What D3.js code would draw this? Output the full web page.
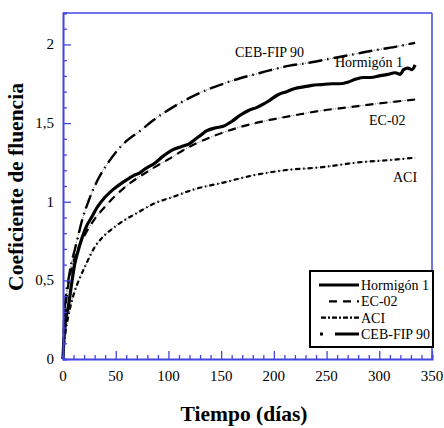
<!DOCTYPE html>
<html>
<head>
<meta charset="utf-8">
<script src="https://cdn.jsdelivr.net/npm/d3@7"></script>
<style>
  body { margin: 0; background: #fff; }
  svg { display: block; }
</style>
</head>
<body>
<svg id="chart"></svg>
<script>
const width = 444;
const height = 428;

// Hormigón 1 (measured)
const hormigonT = [0, 1, 2, 3, 5, 8, 11, 14, 18, 22, 27, 33, 40, 48, 56, 63, 68, 72, 78, 87, 95, 104, 112, 120, 126, 132, 136, 145, 152, 160, 168, 176, 184, 190, 196, 204, 212, 220, 228, 236, 245, 255, 262, 270, 278, 285, 292, 300, 308, 315, 320, 323, 327, 331, 334];
const hormigonY = [0, 0.14, 0.22, 0.27, 0.33, 0.47, 0.6, 0.68, 0.77, 0.84, 0.9, 0.97, 1.03, 1.08, 1.12, 1.15, 1.17, 1.18, 1.21, 1.245, 1.29, 1.33, 1.35, 1.37, 1.4, 1.43, 1.45, 1.47, 1.48, 1.51, 1.55, 1.58, 1.6, 1.62, 1.645, 1.68, 1.7, 1.72, 1.73, 1.74, 1.745, 1.75, 1.75, 1.76, 1.78, 1.79, 1.79, 1.8, 1.81, 1.82, 1.81, 1.84, 1.85, 1.84, 1.87];

// EC-02
const ecT = [0, 1, 2, 3, 5, 8, 11, 15, 20, 30, 40, 50, 62, 75, 87, 100, 120, 140, 168, 196, 220, 246, 270, 300, 334];
const ecY = [0, 0.2, 0.3, 0.37, 0.47, 0.57, 0.64, 0.71, 0.78, 0.89, 0.97, 1.04, 1.11, 1.17, 1.22, 1.27, 1.35, 1.41, 1.475, 1.52, 1.55, 1.58, 1.6, 1.625, 1.65];

// ACI
const aciT = [0, 1, 2, 3, 5, 8, 11, 15, 21, 30, 40, 49, 60, 68, 87, 104, 125, 151, 182, 210, 246, 280, 310, 334];
const aciY = [0, 0.1, 0.15, 0.2, 0.27, 0.36, 0.43, 0.5, 0.59, 0.71, 0.79, 0.84, 0.89, 0.92, 0.99, 1.03, 1.08, 1.12, 1.17, 1.2, 1.22, 1.25, 1.265, 1.28];

// CEB-FIP 90
const cebT = [0, 1, 2, 3, 5, 8, 11, 15, 18, 24, 33, 43, 52, 60, 73, 85, 104, 120, 136, 152, 168, 182, 196, 215, 230, 250, 270, 293, 315, 334];
const cebY = [0, 0.25, 0.35, 0.42, 0.5, 0.61, 0.69, 0.8, 0.88, 1.0, 1.14, 1.25, 1.33, 1.385, 1.45, 1.515, 1.6, 1.66, 1.71, 1.75, 1.785, 1.81, 1.835, 1.865, 1.88, 1.905, 1.93, 1.96, 1.985, 2.01];

const xTicks = [0, 50, 100, 150, 200, 250, 300, 350];
const yTicks = [0, 0.5, 1, 1.5, 2];
const yTickLabels = ["0", "0,5", "1", "1,5", "2"];

const legendNames = ["Hormigón 1", "EC-02", "ACI", "CEB-FIP 90"];

const margin = {top: 13, right: 12, bottom: 69, left: 63};
const axisColor = "#4545e0";

const svg = d3.select("#chart")
    .attr("width", width)
    .attr("height", height)
    .style("font-family", "Liberation Serif, Times New Roman, serif");

const x = d3.scaleLinear().domain([0, 350]).range([margin.left, width - margin.right]);
const y = d3.scaleLinear().domain([0, 2.2]).range([height - margin.bottom, margin.top]);

const zip = (ts, ys) => ts.map((t, i) => [t, ys[i]]);

const line = d3.line()
    .x(d => x(d[0]))
    .y(d => y(d[1]))
    .curve(d3.curveMonotoneX);

const series = [
    {name: "Hormigón 1", data: zip(hormigonT, hormigonY), width: 3.2, dash: null},
    {name: "EC-02", data: zip(ecT, ecY), width: 2.2, dash: "8,6"},
    {name: "ACI", data: zip(aciT, aciY), width: 2.2, dash: "5,3,1.5,3"},
    {name: "CEB-FIP 90", data: zip(cebT, cebY), width: 2.4, dash: "14,5,1.5,5"}
];

// curves
const curves = svg.append("g");
series.forEach(s => {
    if (s.dash) {
        curves.append("path")
            .attr("d", line(s.data))
            .attr("fill", "none")
            .attr("stroke", "#000")
            .attr("stroke-width", 0.6)
            .attr("stroke-dasharray", "1,1.5");
    }
    curves.append("path")
        .attr("d", line(s.data))
        .attr("fill", "none")
        .attr("stroke", "#000")
        .attr("stroke-width", s.width)
        .attr("stroke-dasharray", s.dash);
});

// axes: ticks point inward
const xAxis = d3.axisBottom(x)
    .tickValues(d3.range(0, 351, 10))
    .tickSize(-4)
    .tickFormat("");
const gx = svg.append("g")
    .attr("transform", `translate(0,${y(0)})`)
    .call(xAxis);
gx.selectAll(".tick line")
    .filter(d => d % 50 === 0)
    .attr("y2", -8);

const yAxis = d3.axisLeft(y)
    .tickValues(d3.range(0, 23).map(i => i / 10))
    .tickSize(-4)
    .tickFormat("");
const gy = svg.append("g")
    .attr("transform", `translate(${x(0)},0)`)
    .call(yAxis);
gy.selectAll(".tick line")
    .filter(d => Math.abs(d * 2 - Math.round(d * 2)) < 1e-6)
    .attr("x2", 8);

[gx, gy].forEach(g => {
    g.selectAll("line, path").attr("stroke", axisColor).attr("stroke-width", 1.3);
});
gx.select(".domain").attr("stroke-width", 2);
gy.select(".domain").attr("stroke-width", 2);

// top and right frame
svg.append("line")
    .attr("x1", x(0)).attr("x2", x(350))
    .attr("y1", y(2.2)).attr("y2", y(2.2))
    .attr("stroke", axisColor).attr("stroke-width", 1.5);
svg.append("line")
    .attr("x1", x(350)).attr("x2", x(350))
    .attr("y1", y(2.2)).attr("y2", y(0))
    .attr("stroke", axisColor).attr("stroke-width", 1.5);

// tick labels
svg.append("g").selectAll("text")
    .data(xTicks)
    .enter().append("text")
    .attr("x", d => x(d))
    .attr("y", y(0) + 22)
    .attr("text-anchor", "middle")
    .attr("font-size", 15)
    .text(d => d);

svg.append("g").selectAll("text")
    .data(yTicks)
    .enter().append("text")
    .attr("x", x(0) - 9)
    .attr("y", d => y(d) + 5)
    .attr("text-anchor", "end")
    .attr("font-size", 15)
    .text((d, i) => yTickLabels[i]);

// axis titles
svg.append("text")
    .attr("x", 244)
    .attr("y", 421)
    .attr("text-anchor", "middle")
    .attr("font-size", 21.5)
    .attr("font-weight", "bold")
    .text("Tiempo (días)");

svg.append("text")
    .attr("transform", "translate(23,187) rotate(-90)")
    .attr("text-anchor", "middle")
    .attr("font-size", 21.5)
    .attr("font-weight", "bold")
    .text("Coeficiente de fluencia");

// in-plot labels
const labels = [
    {text: "CEB-FIP 90", x: 235, y: 57},
    {text: "Hormigón 1", x: 335, y: 67},
    {text: "EC-02", x: 369, y: 125},
    {text: "ACI", x: 393, y: 182}
];
svg.append("g").selectAll("text")
    .data(labels)
    .enter().append("text")
    .attr("x", d => d.x)
    .attr("y", d => d.y)
    .attr("font-size", 14)
    .text(d => d.text);

// legend
const legend = svg.append("g");
legend.append("rect")
    .attr("x", 310).attr("y", 271)
    .attr("width", 123).attr("height", 76)
    .attr("fill", "#fff")
    .attr("stroke", "#000")
    .attr("stroke-width", 2);

const legendStyles = [
    {x1: 319, width: 3.2, dash: null},
    {x1: 329, width: 2.2, dash: "8,6"},
    {x1: 321, width: 2.2, dash: "5,2,2,2"},
    {x1: 320, width: 3, dash: "3,12,40"}
];
legendNames.forEach((name, i) => {
    const ly = 285 + i * 16.3;
    const st = legendStyles[i];
    legend.append("line")
        .attr("x1", st.x1).attr("x2", 359)
        .attr("y1", ly).attr("y2", ly)
        .attr("stroke", "#000")
        .attr("stroke-width", st.width)
        .attr("stroke-dasharray", st.dash);
    legend.append("text")
        .attr("x", 361)
        .attr("y", ly + 5)
        .attr("font-size", 14)
        .text(name);
});
</script>
</body>
</html>
